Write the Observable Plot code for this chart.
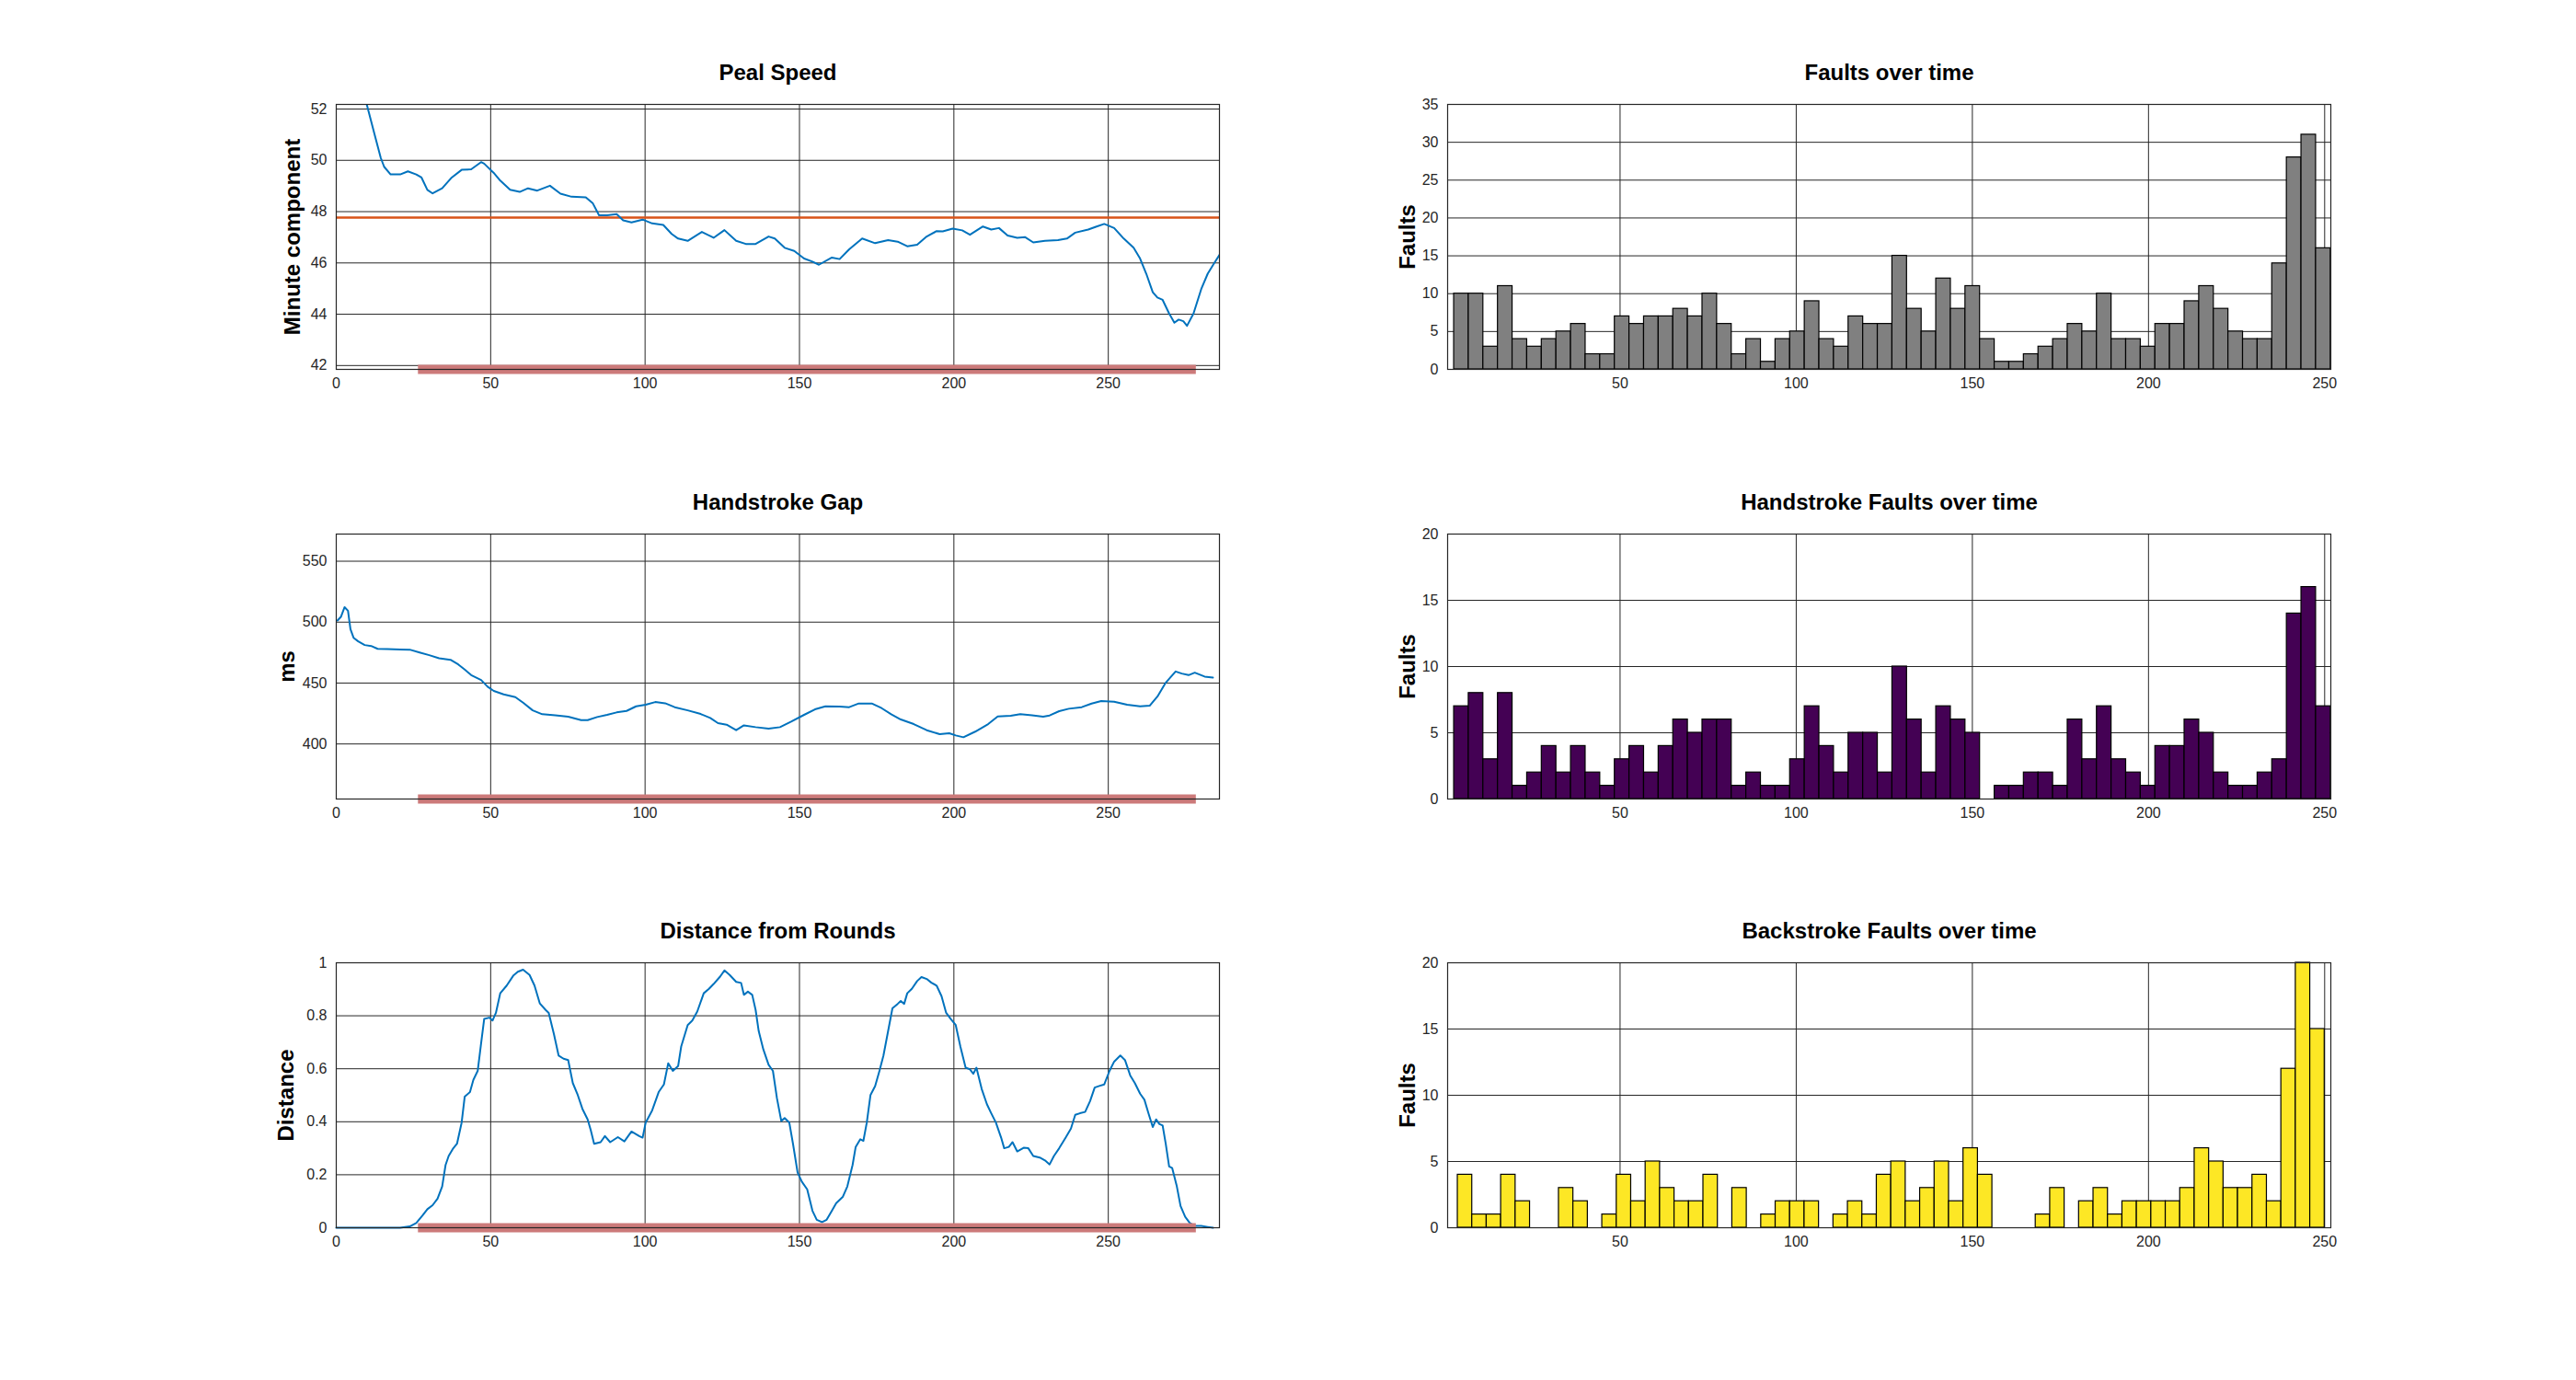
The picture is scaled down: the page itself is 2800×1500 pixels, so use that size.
<!DOCTYPE html>
<html><head><meta charset="utf-8">
<script src="https://cdn.jsdelivr.net/npm/d3@7"></script>
<script src="https://cdn.jsdelivr.net/npm/@observablehq/plot@0.6"></script>
<style>
body{margin:0;background:#fff;}
#page{position:relative;width:2800px;height:1500px;background:#fff;font-family:"Liberation Sans",Arial,sans-serif;overflow:hidden;}
.chart{position:absolute;}
</style></head><body><div id="page"></div>
<script>
// ---- Data ----
const pealSpeed = [[9.4,52.4],[12.3,51.06],[14.4,50.1],[15.5,49.75],[17.6,49.45],[20.7,49.45],[23.2,49.57],[25.9,49.45],[27.6,49.33],[29.5,48.85],[31.2,48.71],[34.3,48.91],[37.4,49.33],[40.6,49.63],[43.7,49.65],[46.9,49.93],[47.9,49.87],[51.0,49.51],[53.1,49.21],[56.3,48.85],[59.4,48.77],[62.1,48.91],[65.1,48.82],[69.2,49.01],[72.6,48.70],[76.2,48.58],[80.8,48.56],[83.1,48.32],[85.1,47.86],[87.7,47.86],[90.8,47.90],[92.9,47.66],[95.6,47.58],[99.2,47.69],[102.3,47.54],[105.9,47.48],[108.6,47.13],[110.7,46.95],[113.8,46.86],[118.4,47.21],[122.2,46.98],[125.7,47.28],[129.5,46.86],[132.6,46.74],[135.8,46.74],[140.0,47.03],[142.0,46.95],[145.2,46.59],[148.3,46.47],[151.5,46.17],[154.2,46.05],[156.3,45.93],[160.5,46.21],[163.0,46.15],[166.1,46.53],[170.3,46.95],[174.5,46.77],[178.7,46.89],[181.8,46.83],[184.9,46.65],[188.1,46.71],[191.2,47.03],[194.4,47.24],[196.4,47.23],[199.6,47.34],[202.7,47.27],[205.2,47.10],[209.4,47.42],[212.1,47.30],[214.6,47.36],[217.4,47.07],[220.5,46.98],[223.0,47.01],[225.7,46.80],[229.5,46.86],[233.7,46.89],[236.6,46.95],[239.3,47.18],[243.5,47.30],[246.2,47.42],[248.7,47.52],[251.9,47.36],[255.0,46.95],[258.2,46.59],[260.3,46.17],[262.3,45.58],[264.4,44.86],[265.9,44.65],[267.6,44.56],[269.7,44.03],[271.4,43.67],[272.8,43.79],[274.3,43.73],[275.5,43.55],[277.6,44.03],[280.1,44.98],[282.2,45.58],[284.3,45.99],[286.2,46.35]];
const pealMean = 47.77;

const handGap = [[0.4,501.3],[1.5,504.3],[2.7,512.3],[3.8,509.3],[4.6,494.2],[5.6,487.2],[7.1,484.2],[9.2,481.2],[11.3,480.4],[13.4,478.1],[16.5,477.9],[20.7,477.6],[23.8,477.4],[27.0,475.1],[30.1,472.9],[33.3,470.4],[37.0,469.1],[39.5,465.3],[41.6,461.1],[43.7,456.5],[46.9,452.5],[49.0,447.0],[51.0,443.5],[54.2,440.7],[58.0,438.4],[60.5,433.9],[63.6,427.6],[66.7,424.4],[70.9,423.6],[75.1,422.4],[79.3,419.6],[81.4,419.6],[84.5,422.1],[87.7,423.9],[90.8,425.9],[94.0,427.1],[97.1,430.9],[100.2,432.2],[103.3,434.4],[106.5,433.4],[109.6,430.2],[113.8,427.6],[118.0,424.6],[121.1,421.4],[123.6,417.1],[126.4,415.8],[129.5,411.3],[132.0,415.3],[135.8,413.8],[140.0,412.6],[143.7,413.8],[147.3,418.3],[151.5,423.9],[155.0,428.4],[158.4,430.9],[163.0,430.7],[166.1,430.2],[169.2,433.2],[173.4,433.2],[176.6,429.4],[179.7,424.4],[182.8,420.1],[187.0,416.3],[191.2,411.3],[195.4,408.0],[198.5,408.8],[200.6,407.0],[203.1,405.5],[206.9,410.1],[211.1,416.3],[214.2,422.6],[218.4,423.1],[221.5,424.4],[225.3,423.6],[228.9,422.4],[231.0,423.4],[234.1,426.9],[237.2,428.9],[241.4,430.2],[244.6,433.2],[247.7,435.2],[251.9,434.7],[256.1,432.2],[260.3,430.9],[263.4,431.4],[265.9,438.9],[268.6,450.3],[271.8,459.5],[273.8,457.8],[276.0,456.5],[278.0,458.5],[281.2,455.3],[283.9,454.5]];

const distance = [[0,0],[20.7,0],[23.8,0.005],[25.9,0.018],[28.0,0.047],[29.5,0.070],[31.2,0.085],[32.8,0.110],[34.3,0.156],[35.4,0.237],[36.4,0.271],[37.9,0.300],[39.1,0.317],[40.6,0.397],[41.6,0.495],[43.3,0.512],[44.4,0.558],[45.8,0.592],[46.9,0.696],[47.9,0.788],[49.6,0.793],[50.6,0.782],[51.7,0.811],[53.1,0.885],[55.2,0.914],[57.3,0.951],[58.8,0.966],[60.5,0.974],[62.6,0.954],[64.2,0.914],[65.9,0.847],[67.8,0.822],[68.8,0.811],[70.5,0.730],[72.0,0.650],[73.6,0.638],[75.1,0.633],[76.6,0.546],[78.2,0.501],[79.7,0.449],[81.4,0.409],[82.4,0.369],[83.5,0.317],[85.6,0.323],[87.0,0.346],[88.7,0.323],[91.2,0.342],[93.3,0.326],[95.6,0.363],[98.1,0.346],[99.2,0.340],[100.2,0.397],[102.3,0.443],[104.4,0.512],[106.1,0.541],[107.5,0.621],[109.0,0.592],[110.7,0.610],[111.7,0.684],[113.8,0.765],[115.3,0.782],[116.9,0.816],[119.0,0.885],[120.7,0.902],[122.2,0.920],[124.3,0.948],[125.7,0.971],[127.4,0.954],[129.5,0.928],[131.1,0.924],[132.0,0.879],[133.3,0.891],[134.7,0.879],[135.8,0.822],[136.8,0.742],[138.3,0.673],[140.0,0.615],[141.4,0.592],[142.7,0.489],[144.1,0.403],[145.2,0.414],[146.7,0.397],[147.9,0.317],[149.4,0.208],[150.8,0.173],[152.5,0.145],[154.2,0.064],[155.6,0.030],[157.3,0.021],[158.8,0.030],[160.5,0.064],[161.9,0.093],[164.0,0.116],[165.5,0.156],[167.2,0.237],[168.2,0.305],[169.7,0.334],[170.7,0.328],[171.8,0.397],[173.0,0.501],[174.5,0.535],[175.9,0.592],[177.2,0.650],[178.7,0.742],[180.1,0.828],[181.8,0.845],[182.8,0.856],[183.9,0.845],[184.9,0.885],[186.4,0.902],[188.1,0.931],[189.5,0.946],[191.2,0.939],[192.7,0.925],[194.4,0.914],[196.0,0.874],[197.5,0.811],[199.0,0.788],[200.6,0.765],[202.1,0.684],[203.8,0.604],[205.2,0.598],[206.3,0.581],[207.3,0.604],[209.0,0.524],[210.7,0.466],[212.1,0.432],[213.6,0.397],[215.3,0.340],[216.3,0.300],[217.8,0.305],[219.0,0.323],[220.5,0.288],[222.6,0.302],[224.1,0.300],[225.7,0.271],[227.8,0.265],[229.5,0.254],[231.0,0.239],[232.4,0.271],[234.1,0.300],[236.2,0.340],[237.9,0.374],[239.3,0.426],[240.8,0.432],[242.5,0.437],[244.1,0.478],[245.6,0.529],[247.1,0.535],[248.7,0.541],[250.4,0.592],[251.9,0.627],[253.9,0.650],[255.4,0.633],[257.1,0.575],[258.6,0.546],[260.3,0.506],[261.7,0.483],[263.0,0.432],[264.4,0.380],[265.5,0.409],[266.5,0.392],[267.6,0.386],[268.6,0.317],[269.7,0.231],[270.7,0.225],[272.2,0.156],[273.4,0.082],[274.9,0.041],[276.4,0.018],[278.0,0.007],[280.1,0.007],[282.2,0.003],[283.9,0]];

const sessionRange = [26.6, 278.5];

const faultCounts = [10,10,3,11,4,3,4,5,6,2,2,7,6,7,7,8,7,10,6,2,4,1,4,5,9,4,3,7,6,6,15,8,5,12,8,11,4,1,1,2,3,4,6,5,10,4,4,3,6,6,9,11,8,5,4,4,14,28,31,16];
const handCounts  = [7,8,3,8,1,2,4,2,4,2,1,3,4,2,4,6,5,6,6,1,2,1,1,3,7,4,2,5,5,2,10,6,2,7,6,5,0,1,1,2,2,1,6,3,7,3,2,1,4,4,6,5,2,1,1,2,3,14,16,7];
const backCounts  = [4,1,1,4,2,0,0,3,2,0,1,4,2,5,3,2,2,4,0,3,0,1,2,2,2,0,1,2,1,4,5,2,3,5,2,6,4,0,0,0,1,3,0,2,3,1,2,2,2,2,3,6,5,3,3,4,2,12,20,15];
const faultRange = [2.89, 251.7];   // data range split into the bins
const backRange  = [3.93, 250.0];

const leftXTicks = [0,50,100,150,200,250];
const rightXTicks = [50,100,150,200,250];
const pealTicks = [42,44,46,48,50,52];
const gapTicks = [400,450,500,550];
const distTicks = [0,0.2,0.4,0.6,0.8,1];
const faultTicks = [0,5,10,15,20,25,30,35];
const strokeTicks = [0,5,10,15,20];

// ---- helpers ----
function bins(counts, range) {
  const n = counts.length, w = (range[1]-range[0])/n;
  return counts.map((c,i) => ({x1: range[0]+i*w, x2: range[0]+(i+1)*w, y: c})).filter(d => d.y > 0);
}
const INK = "#262626";
const page = document.getElementById("page");
function chart({left, top, xDomain, yDomain, xTicks, yTicks, title, ylabel, ylabelOffset, marks}) {
  const mL=100, mR=20, mT=70, mB=50, fw=960, fh=288;
  const p = Plot.plot({
    width: fw+mL+mR, height: fh+mT+mB,
    marginLeft: mL, marginRight: mR, marginTop: mT, marginBottom: mB,
    style: {fontFamily: "Liberation Sans, Arial, sans-serif", background: "transparent", overflow: "visible"},
    x: {domain: xDomain},
    y: {domain: yDomain},
    marks: [
      Plot.gridX(xTicks, {stroke: INK, strokeOpacity: 1, strokeWidth: 1}),
      Plot.gridY(yTicks, {stroke: INK, strokeOpacity: 1, strokeWidth: 1}),
      ...marks,
      Plot.frame({stroke: INK, strokeWidth: 1.2}),
      Plot.axisX(xTicks, {tickSize: 0, tickPadding: 9, fontSize: 16, color: INK, label: null, tickFormat: d => String(d)}),
      Plot.axisY(yTicks, {tickSize: 0, tickPadding: 10, fontSize: 16, color: INK, label: null, tickFormat: d => String(d)}),
      Plot.text([title], {text: d => d, frameAnchor: "top", dy: -34, fontSize: 24, fontWeight: "bold", lineAnchor: "middle", textAnchor: "middle", fill: "#000"}),
      Plot.text([ylabel], {text: d => d, frameAnchor: "left", dx: -ylabelOffset, rotate: -90, fontSize: 24, fontWeight: "bold", lineAnchor: "middle", textAnchor: "middle", fill: "#000"})
    ]
  });
  p.classList.add("chart");
  p.style.left = left + "px";
  p.style.top = top + "px";
  page.appendChild(p);
}
const BLUE = "#0072BD", BAND = "#cc7a7a";
const leftX = [0, 286], rightX = [1.05, 251.75];
const bandMark = (yv) => Plot.ruleY([yv], {x1: sessionRange[0], x2: sessionRange[1], stroke: BAND, strokeWidth: 10});

const pealDom = [41.85, 52.18], gapDom = [354.8, 572.3], distDom = [0, 1];

chart({left: 265, top: 43, xDomain: leftX, yDomain: pealDom, xTicks: leftXTicks, yTicks: pealTicks,
  title: "Peal Speed", ylabel: "Minute component", ylabelOffset: 47,
  marks: [
    Plot.ruleY([pealMean], {stroke: "#D95319", strokeWidth: 2.5}),
    Plot.line(pealSpeed, {x: d => d[0], y: d => d[1], stroke: BLUE, strokeWidth: 2, clip: true}),
    bandMark(pealDom[0])
  ]});
chart({left: 265, top: 510, xDomain: leftX, yDomain: gapDom, xTicks: leftXTicks, yTicks: gapTicks,
  title: "Handstroke Gap", ylabel: "ms", ylabelOffset: 53,
  marks: [
    Plot.line(handGap, {x: d => d[0], y: d => d[1], stroke: BLUE, strokeWidth: 2}),
    bandMark(gapDom[0])
  ]});
chart({left: 265, top: 976, xDomain: leftX, yDomain: distDom, xTicks: leftXTicks, yTicks: distTicks,
  title: "Distance from Rounds", ylabel: "Distance", ylabelOffset: 54,
  marks: [
    Plot.line(distance, {x: d => d[0], y: d => d[1], stroke: BLUE, strokeWidth: 2}),
    bandMark(0)
  ]});
chart({left: 1473, top: 43, xDomain: rightX, yDomain: [0, 35], xTicks: rightXTicks, yTicks: faultTicks,
  title: "Faults over time", ylabel: "Faults", ylabelOffset: 43,
  marks: [Plot.rectY(bins(faultCounts, faultRange), {x1: "x1", x2: "x2", y: "y", fill: "#808080", stroke: "#000", strokeWidth: 1.2})]});
chart({left: 1473, top: 510, xDomain: rightX, yDomain: [0, 20], xTicks: rightXTicks, yTicks: strokeTicks,
  title: "Handstroke Faults over time", ylabel: "Faults", ylabelOffset: 43,
  marks: [Plot.rectY(bins(handCounts, faultRange), {x1: "x1", x2: "x2", y: "y", fill: "#440154", stroke: "#000", strokeWidth: 1.2})]});
chart({left: 1473, top: 976, xDomain: rightX, yDomain: [0, 20], xTicks: rightXTicks, yTicks: strokeTicks,
  title: "Backstroke Faults over time", ylabel: "Faults", ylabelOffset: 43,
  marks: [Plot.rectY(bins(backCounts, backRange), {x1: "x1", x2: "x2", y: "y", fill: "#FDE725", stroke: "#000", strokeWidth: 1.2})]});
</script></body></html>
